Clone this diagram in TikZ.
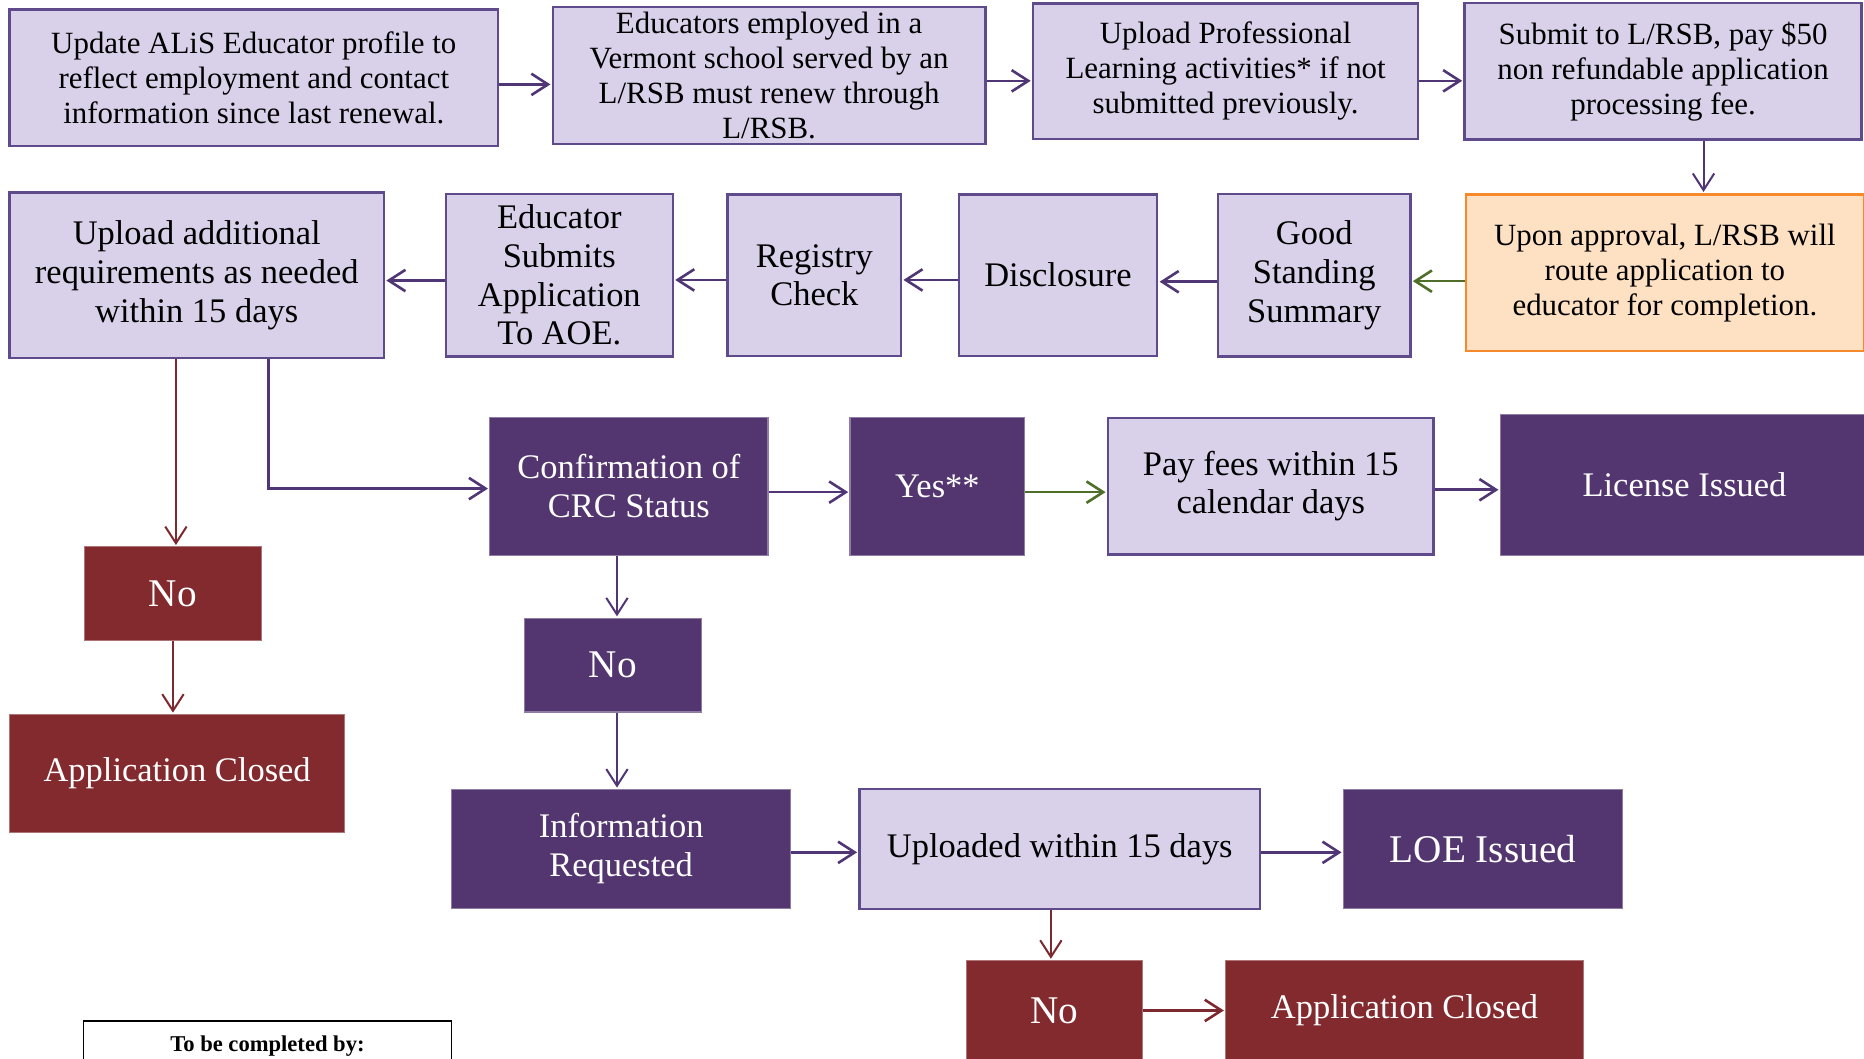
\documentclass[tikz,border=0pt]{standalone}
\usepackage{fontspec}
\setmainfont{Liberation Serif}
\usetikzlibrary{arrows.meta,positioning}

\definecolor{lightfill}{HTML}{D9D1E9}
\definecolor{lightline}{HTML}{5F4B8B}
\definecolor{darkfill}{HTML}{533670}
\definecolor{redfill}{HTML}{822A2E}
\definecolor{orangefill}{HTML}{FDE1C2}
\definecolor{orangeline}{HTML}{F5892B}
\definecolor{arrowpurple}{HTML}{503674}
\definecolor{arrowred}{HTML}{7D2930}
\definecolor{arrowgreen}{HTML}{4E6E2A}

\newcommand{\txtsmall}{\fontsize{26}{29.5}\selectfont}
\newcommand{\txtbig}{\fontsize{29}{32.5}\selectfont}
\newcommand{\txtno}{\fontsize{33}{38}\selectfont}

\begin{document}
\begin{tikzpicture}[x=1pt,y=-1pt,>={Straight Barb[length=14pt,width=18pt]},shorten >=1pt,
                    light node/.style={rectangle,draw=lightline,fill=lightfill,line width=2pt,align=center,inner sep=0pt,font=\txtbig},
                    dark node/.style={rectangle,draw=darkfill!65!white,fill=darkfill,line width=1pt,align=center,inner sep=0pt,text=white,font=\txtbig},
                    red node/.style={rectangle,draw=redfill!65!white,fill=redfill,line width=1pt,align=center,inner sep=0pt,text=white,font=\txtbig},
                    orange node/.style={rectangle,draw=orangeline,fill=orangefill,line width=2pt,align=center,inner sep=0pt,font=\txtsmall},
                    boxsize/.style 2 args={minimum width=#1pt,minimum height=#2pt}]
  \useasboundingbox (0,0) rectangle (1568,890);
  \clip (0,0) rectangle (1568,890);
  \node[light node,font=\txtsmall,boxsize={411}{115}] (update) at (213.5,65.5) {Update ALiS Educator profile to\\reflect employment and contact\\information since last renewal.};
  \node[light node,font=\txtsmall,boxsize={364}{115}] (employed) [node distance=433.5pt,right of=update,yshift=2pt] {Educators employed in a\\Vermont school served by an\\L/RSB must renew through\\L/RSB.};
  \node[light node,font=\txtsmall,boxsize={324}{114}] (upload) [node distance=384pt,right of=employed,yshift=3.5pt] {Upload Professional\\Learning activities* if not\\submitted previously.};
  \node[light node,font=\txtsmall,boxsize={334}{115}] (submit) [node distance=368pt,right of=upload] {Submit to L/RSB, pay \$50\\non refundable application\\processing fee.};
  \node[orange node,boxsize={335}{132}] (approval) [node distance=169.5pt,below of=submit,xshift=1.5pt] {Upon approval, L/RSB will\\route application to\\educator for completion.};
  \node[light node,boxsize={162}{137}] (standing) [node distance=295pt,left of=approval,yshift=-2pt] {Good\\Standing\\Summary};
  \node[light node,boxsize={167}{136}] (disclosure) [node distance=215.5pt,left of=standing] {Disclosure};
  \node[light node,boxsize={146}{136}] (registry) [node distance=205pt,left of=disclosure] {Registry\\Check};
  \node[light node,boxsize={191}{137}] (submits) [node distance=214.5pt,left of=registry] {Educator\\Submits\\Application\\To AOE.};
  \node[light node,boxsize={315}{139}] (additional) [node distance=305pt,left of=submits] {Upload additional\\requirements as needed\\within 15 days};
  \node[dark node,boxsize={234}{116}] (crc) [node distance=177.5pt,below of=submits,xshift=58.5pt] {Confirmation of\\CRC Status};
  \node[dark node,boxsize={147}{116}] (yes) [node distance=259.5pt,right of=crc] {Yes**};
  \node[light node,boxsize={274}{115}] (fees) [node distance=280.5pt,right of=yes] {Pay fees within 15\\calendar days};
  \node[dark node,boxsize={310}{118}] (license) [node distance=348pt,right of=fees,yshift=1pt] {License Issued};
  \node[dark node,font=\txtno,boxsize={149}{79}] (crcno) [node distance=150.5pt,below of=crc,xshift=-13.5pt] {No};
  \node[dark node,boxsize={285}{100}] (requested) [node distance=154.5pt,below of=crcno,xshift=7pt] {Information\\Requested};
  \node[light node,boxsize={337}{101}] (uploaded) [node distance=369pt,right of=requested] {Uploaded within 15 days};
  \node[dark node,font=\txtno,boxsize={235}{100}] (loe) [node distance=356pt,right of=uploaded] {LOE Issued};
  \node[red node,font=\txtno,boxsize={148}{84}] (uploadno) [node distance=136pt,below of=uploaded,xshift=-4.5pt] {No};
  \node[red node,boxsize={301}{84}] (closedb) [node distance=294.5pt,right of=uploadno] {Application Closed};
  \node[red node,font=\txtno,boxsize={149}{79}] (firstno) [node distance=268pt,below of=additional,xshift=-20pt] {No};
  \node[red node,boxsize={282}{99}] (closeda) [node distance=151pt,below of=firstno,xshift=3.5pt] {Application Closed};
  \node[draw=black,fill=white,line width=1.2pt,boxsize={310}{42},font=\fontsize{19}{22}\selectfont\bfseries] (completed) at (225,880) {To be completed by:};
  \path[->,color=arrowpurple,line width=2.2pt]
    ([yshift=-5.5pt]update.east) edge ([yshift=-5.5pt]update.east -| employed.west)
    ([yshift=-4.5pt]employed.east) edge ([yshift=-4.5pt]employed.east -| upload.west)
    ([yshift=-8pt]upload.east) edge ([yshift=-8pt]upload.east -| submit.west)
    ([yshift=-7pt]approval.west) edge [arrowgreen] ([yshift=-7pt]approval.west -| standing.east)
    ([yshift=-5.5pt]standing.west) edge ([yshift=-5.5pt]standing.west -| disclosure.east)
    ([yshift=-4pt]disclosure.west) edge ([yshift=-4pt]disclosure.west -| registry.east)
    ([yshift=-4pt]registry.west) edge ([yshift=-4pt]registry.west -| submits.east)
    ([yshift=-4.5pt]submits.west) edge ([yshift=-4.5pt]submits.west -| additional.east)
    ([xshift=60.5pt]additional.south) edge [to path={|- (\tikztotarget)}] ([yshift=-2pt]crc.west)
    ([yshift=-5pt]crc.east) edge ([yshift=-5pt]crc.east -| yes.west)
    ([yshift=-5pt]yes.east) edge [arrowgreen] ([yshift=-5pt]yes.east -| fees.west)
    ([yshift=-3pt]fees.east) edge ([yshift=-3pt]fees.east -| license.west)
    ([yshift=-3pt]requested.east) edge ([yshift=-3pt]requested.east -| uploaded.west)
    ([yshift=-3pt]uploaded.east) edge ([yshift=-3pt]uploaded.east -| loe.west)
    (uploadno.east) edge [arrowred] (uploadno.east -| closedb.west)
    ;
  \path[->,color=arrowpurple,line width=1.7pt]
    ([xshift=34pt]submit.south) edge ([xshift=34pt]submit.south |- approval.north)
    ([xshift=3.5pt]crcno.north |- crc.south) edge ([xshift=3.5pt]crcno.north)
    ([xshift=3.5pt]crcno.south) edge ([xshift=3.5pt]crcno.south |- requested.north)
    ([xshift=2.5pt]additional.south -| firstno.north) edge [arrowred] ([xshift=2.5pt]firstno.north)
    (firstno.south) edge [arrowred] (firstno.south |- closeda.north)
    ([xshift=-3pt]uploadno.north |- uploaded.south) edge [arrowred] ([xshift=-3pt]uploadno.north)
    ;
\end{tikzpicture}
\end{document}
